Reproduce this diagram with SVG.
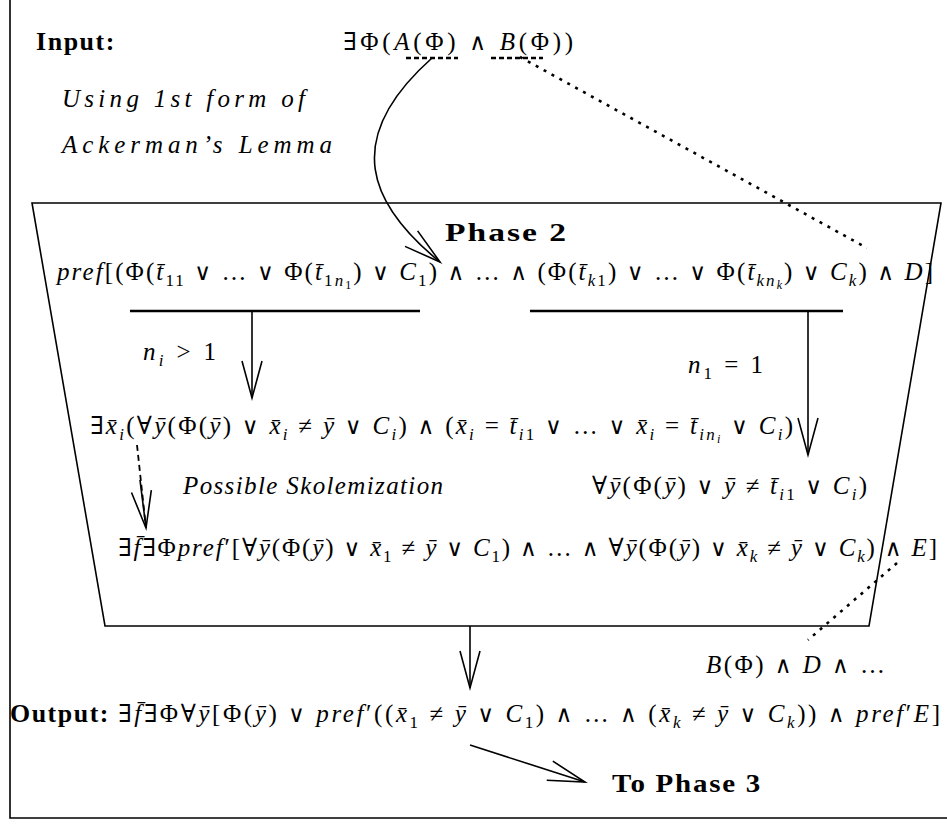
<svg xmlns="http://www.w3.org/2000/svg" width="947" height="824" viewBox="0 0 947 824">
<defs>
<style>
text { font-family: "Liberation Serif", "DejaVu Serif", serif; font-size: 25px; fill: #000; }
.i { font-style: italic; }
.b { font-weight: bold; font-size: 25px; letter-spacing: 1.5px; }
.s { font-size: 17px; }
.ss { font-size: 12px; }
.o { font-family: "DejaVu Serif", serif; font-size: 23px; }
.ln { stroke: #000; stroke-width: 1.6; fill: none; }
.ul { stroke: #000; stroke-width: 2.6; fill: none; }
.dot { stroke: #000; stroke-width: 2.6; fill: none; stroke-dasharray: 3 6; }
.dash { stroke: #000; stroke-width: 2.6; fill: none; stroke-dasharray: 5 3; }
.dsh2 { stroke: #000; stroke-width: 1.8; fill: none; stroke-dasharray: 6 4; }
</style>
<marker id="ah" viewBox="-40 -15 45 30" markerWidth="45" markerHeight="30" refX="0" refY="0" orient="auto" markerUnits="userSpaceOnUse">
<path d="M-37,-10 L0,0 L-37,10" fill="none" stroke="#000" stroke-width="1.6"/>
</marker>
</defs>
<rect width="947" height="824" fill="#fff"/>
<g id="frame">
<path class="ln" d="M10,0 V818 H947"/>
</g>
<g id="phase2-box">
<path class="ln" d="M32,203 H941 L869,626 H105 Z"/>
</g>
<g id="input">
<text x="36" y="50" class="b" textLength="80" lengthAdjust="spacingAndGlyphs">Input:</text>
<text x="343" y="50" textLength="230" lengthAdjust="spacing">∃Φ(<tspan class="i">A</tspan>(Φ) <tspan class="o">∧</tspan> <tspan class="i">B</tspan>(Φ))</text>
</g>
<g id="lemma-note">
<text x="62" y="107" class="i" textLength="243" lengthAdjust="spacing">Using 1st form of</text>
<text x="62" y="153" class="i" textLength="270" lengthAdjust="spacing">Ackerman’s Lemma</text>
</g>
<g id="phase2-title">
<text x="445" y="241" class="b" textLength="123" lengthAdjust="spacingAndGlyphs">Phase 2</text>
</g>
<g id="pref-formula">
<text x="57" y="280" textLength="876" lengthAdjust="spacing"><tspan class="i">pref</tspan>[(Φ(<tspan class="i">t̄</tspan><tspan class="s" dy="6">11</tspan><tspan dy="-6"> <tspan class="o">∨</tspan> … <tspan class="o">∨</tspan> Φ(</tspan><tspan class="i">t̄</tspan><tspan class="s" dy="6">1<tspan class="i">n</tspan></tspan><tspan class="ss" dy="3">1</tspan><tspan dy="-9">) <tspan class="o">∨</tspan> </tspan><tspan class="i">C</tspan><tspan class="s" dy="6">1</tspan><tspan dy="-6">) <tspan class="o">∧</tspan> … <tspan class="o">∧</tspan> (Φ(</tspan><tspan class="i">t̄</tspan><tspan class="s i" dy="6">k</tspan><tspan class="s">1</tspan><tspan dy="-6">) <tspan class="o">∨</tspan> … <tspan class="o">∨</tspan> Φ(</tspan><tspan class="i">t̄</tspan><tspan class="s i" dy="6">kn</tspan><tspan class="ss i" dy="3">k</tspan><tspan dy="-9">) <tspan class="o">∨</tspan> </tspan><tspan class="i">C</tspan><tspan class="s i" dy="6">k</tspan><tspan dy="-6">) <tspan class="o">∧</tspan> </tspan><tspan class="i">D</tspan>]</text>
</g>
<g id="cond-left">
<text x="143" y="360" textLength="73" lengthAdjust="spacing"><tspan class="i">n</tspan><tspan class="s i" dy="6">i</tspan><tspan dy="-6"> &gt; 1</tspan></text>
</g>
<g id="cond-right">
<text x="688" y="373" textLength="75" lengthAdjust="spacing"><tspan class="i">n</tspan><tspan class="s" dy="6">1</tspan><tspan dy="-6"> = 1</tspan></text>
</g>
<g id="exists-formula">
<text x="90" y="434" textLength="703" lengthAdjust="spacing">∃<tspan class="i">x̄</tspan><tspan class="s i" dy="6">i</tspan><tspan dy="-6">(∀</tspan><tspan class="i">ȳ</tspan>(Φ(<tspan class="i">ȳ</tspan>) <tspan class="o">∨</tspan> <tspan class="i">x̄</tspan><tspan class="s i" dy="6">i</tspan><tspan dy="-6"> ≠ </tspan><tspan class="i">ȳ</tspan> <tspan class="o">∨</tspan> <tspan class="i">C</tspan><tspan class="s i" dy="6">i</tspan><tspan dy="-6">) <tspan class="o">∧</tspan> (</tspan><tspan class="i">x̄</tspan><tspan class="s i" dy="6">i</tspan><tspan dy="-6"> = </tspan><tspan class="i">t̄</tspan><tspan class="s i" dy="6">i</tspan><tspan class="s">1</tspan><tspan dy="-6"> <tspan class="o">∨</tspan> … <tspan class="o">∨</tspan> </tspan><tspan class="i">x̄</tspan><tspan class="s i" dy="6">i</tspan><tspan dy="-6"> = </tspan><tspan class="i">t̄</tspan><tspan class="s i" dy="6">in</tspan><tspan class="ss i" dy="3">i</tspan><tspan dy="-9"> <tspan class="o">∨</tspan> </tspan><tspan class="i">C</tspan><tspan class="s i" dy="6">i</tspan><tspan dy="-6">)</tspan></text>
</g>
<g id="skolem-note">
<text x="183" y="494" class="i" textLength="260" lengthAdjust="spacing">Possible Skolemization</text>
</g>
<g id="forall-formula">
<text x="592" y="494" textLength="275" lengthAdjust="spacing">∀<tspan class="i">ȳ</tspan>(Φ(<tspan class="i">ȳ</tspan>) <tspan class="o">∨</tspan> <tspan class="i">ȳ</tspan> ≠ <tspan class="i">t̄</tspan><tspan class="s i" dy="6">i</tspan><tspan class="s">1</tspan><tspan dy="-6"> <tspan class="o">∨</tspan> </tspan><tspan class="i">C</tspan><tspan class="s i" dy="6">i</tspan><tspan dy="-6">)</tspan></text>
</g>
<g id="skolem-formula">
<text x="118" y="556" textLength="819" lengthAdjust="spacing">∃<tspan class="i">f̄</tspan>∃Φ<tspan class="i">pref</tspan>′[∀<tspan class="i">ȳ</tspan>(Φ(<tspan class="i">ȳ</tspan>) <tspan class="o">∨</tspan> <tspan class="i">x̄</tspan><tspan class="s" dy="6">1</tspan><tspan dy="-6"> ≠ </tspan><tspan class="i">ȳ</tspan> <tspan class="o">∨</tspan> <tspan class="i">C</tspan><tspan class="s" dy="6">1</tspan><tspan dy="-6">) <tspan class="o">∧</tspan> … <tspan class="o">∧</tspan> ∀</tspan><tspan class="i">ȳ</tspan>(Φ(<tspan class="i">ȳ</tspan>) <tspan class="o">∨</tspan> <tspan class="i">x̄</tspan><tspan class="s i" dy="6">k</tspan><tspan dy="-6"> ≠ </tspan><tspan class="i">ȳ</tspan> <tspan class="o">∨</tspan> <tspan class="i">C</tspan><tspan class="s i" dy="6">k</tspan><tspan dy="-6">) <tspan class="o">∧</tspan> </tspan><tspan class="i">E</tspan>]</text>
</g>
<g id="bphi-note">
<text x="706" y="673" textLength="179" lengthAdjust="spacing"><tspan class="i">B</tspan>(Φ) <tspan class="o">∧</tspan> <tspan class="i">D</tspan> <tspan class="o">∧</tspan> …</text>
</g>
<g id="output">
<text x="10" y="722" class="b" textLength="100" lengthAdjust="spacingAndGlyphs">Output:</text>
<text x="118" y="722" textLength="822" lengthAdjust="spacing">∃<tspan class="i">f̄</tspan>∃Φ∀<tspan class="i">ȳ</tspan>[Φ(<tspan class="i">ȳ</tspan>) <tspan class="o">∨</tspan> <tspan class="i">pref</tspan>′((<tspan class="i">x̄</tspan><tspan class="s" dy="6">1</tspan><tspan dy="-6"> ≠ </tspan><tspan class="i">ȳ</tspan> <tspan class="o">∨</tspan> <tspan class="i">C</tspan><tspan class="s" dy="6">1</tspan><tspan dy="-6">) <tspan class="o">∧</tspan> … <tspan class="o">∧</tspan> (</tspan><tspan class="i">x̄</tspan><tspan class="s i" dy="6">k</tspan><tspan dy="-6"> ≠ </tspan><tspan class="i">ȳ</tspan> <tspan class="o">∨</tspan> <tspan class="i">C</tspan><tspan class="s i" dy="6">k</tspan><tspan dy="-6">)) <tspan class="o">∧</tspan> </tspan><tspan class="i">pref</tspan>′<tspan class="i">E</tspan>]</text>
</g>
<g id="to-phase3">
<text x="612" y="792" class="b" textLength="150" lengthAdjust="spacingAndGlyphs">To Phase 3</text>
</g>
<g id="connectors">
<path class="dash" d="M406,58 H458"/>
<path class="dash" d="M491,58 H543"/>
<path class="ln" d="M432,58 C340,140 370,205 440,262" marker-end="url(#ah)"/>
<path class="dot" d="M520,57 L867,248"/>
<path class="ul" d="M130,311 H420"/>
<path class="ul" d="M530,311 H843"/>
<path class="ln" d="M252,311 V398" marker-end="url(#ah)"/>
<path class="ln" d="M808,311 V455" marker-end="url(#ah)"/>
<path class="dsh2" d="M137,445 L146,528"/>
<path class="ln" d="M140,480 L146,528" stroke="none" marker-end="url(#ah)"/>
<path class="dot" d="M897,563 L808,640"/>
<path class="ln" d="M470,626 V688" marker-end="url(#ah)"/>
<path class="ln" d="M470,745 L585,782" marker-end="url(#ah)"/>
</g>
</svg>
